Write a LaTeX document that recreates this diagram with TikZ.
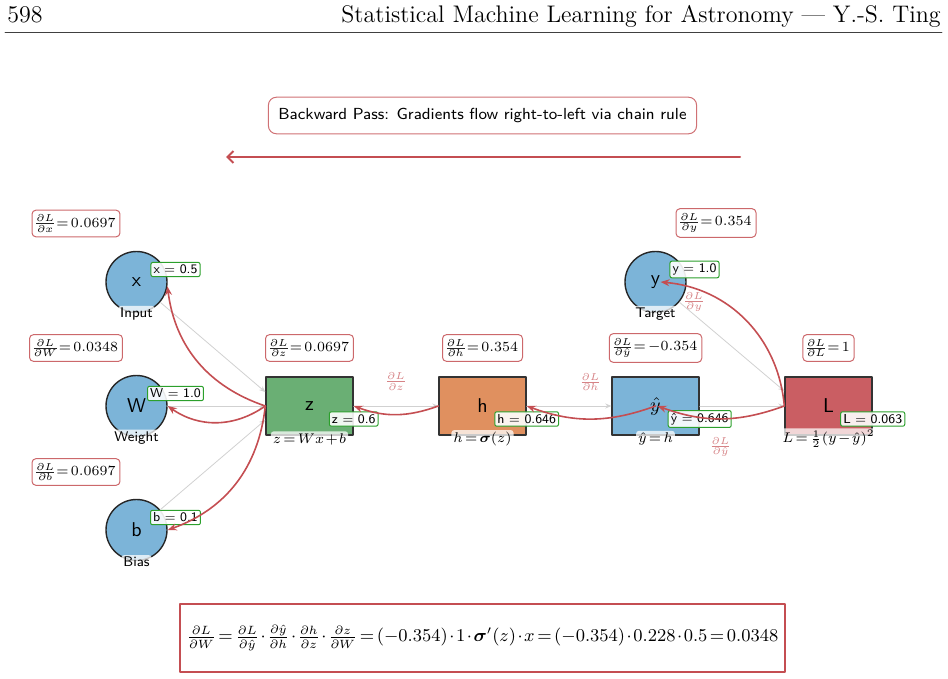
\documentclass[tikz,border=0pt]{standalone}
\usepackage{bm}
\usetikzlibrary{arrows.meta}
\definecolor{varblue}{RGB}{124,180,216}
\definecolor{opgreen}{RGB}{106,175,116}
\definecolor{oporange}{RGB}{224,144,95}
\definecolor{opred}{RGB}{202,94,99}
\definecolor{gradred}{RGB}{196,78,82}
\definecolor{valgreen}{RGB}{44,160,44}
\newcommand{\tightmath}{\thickmuskip=2.5mu\medmuskip=1.5mu\relax}
\newcommand{\nodelim}{\nulldelimiterspace=0pt\relax}
\tikzset{
  var/.style={circle, draw=black!85, line width=0.7pt, fill=varblue, minimum size=30.5pt, inner sep=0pt, font=\sffamily\fontsize{10}{12}\selectfont},
  op/.style={rectangle, draw=black!80, line width=0.7pt, minimum width=43.5pt, minimum height=29pt, inner sep=0pt, font=\sffamily\fontsize{10}{12}\selectfont},
  sublab/.style={fill=white, fill opacity=0.75, text opacity=1, rounded corners=1.5pt, inner sep=1pt, font=\sffamily\fontsize{7}{8}\selectfont},
  formlab/.style={sublab, font=\fontsize{7.5}{9}\selectfont\tightmath},
  valbox/.style={draw=valgreen, line width=0.5pt, fill=white, fill opacity=0.9, text opacity=1, rounded corners=1pt, inner sep=1.3pt, font=\sffamily\fontsize{6.5}{7}\selectfont},
  gradbox/.style={draw=gradred, draw opacity=0.85, line width=0.5pt, fill=white, rounded corners=2pt, inner xsep=2.2pt, inner ysep=2.4pt, font=\fontsize{7.2}{9}\selectfont\tightmath},
  gradlab/.style={text=gradred!70, inner sep=0pt, font=\fontsize{7.5}{9}\selectfont},
  titlebox/.style={draw=gradred, draw opacity=0.8, line width=0.5pt, fill=white, rounded corners=4pt, inner xsep=5pt, inner ysep=5.5pt, font=\sffamily\fontsize{8}{10}\selectfont},
  formbox/.style={draw=gradred, line width=0.75pt, fill=white, minimum width=302.5pt, minimum height=34pt, font=\fontsize{9}{11}\selectfont\tightmath},
  flowarrow/.style={draw=gradred, line width=1pt, -{Straight Barb[length=3pt,width=6pt]}},
  fwd/.style={draw=black!18, line width=0.4pt, -{Stealth[length=3pt,width=2.5pt]}},
  back/.style={draw=gradred, line width=0.8pt, -{Stealth[length=4.5pt,width=3.5pt]}},
}
\begin{document}
\begin{tikzpicture}[x=0.5pt, y=-0.5pt, line join=round, line cap=round]
  \useasboundingbox (0,0) rectangle (948,679);
  % page header
  \node[anchor=base west, inner sep=0pt, font=\fontsize{12}{14}\selectfont] (pagenum) at (7,23) {598};
  \node[anchor=base east, inner sep=0pt, font=\fontsize{12}{14}\selectfont] (pagehead) at (941,23) {Statistical Machine Learning for Astronomy --- Y.-S. Ting};
  \draw[line width=0.4pt, black!75] (5,32) -- (942,32);
  % title and flow direction
  \node[titlebox] (title) at (482.5,115.5) {Backward Pass: Gradients flow right-to-left via chain rule};
  \coordinate (flowR) at (740,157);
  \coordinate (flowL) at (226,157);
  \draw[flowarrow] (flowR) -- (flowL);
  % variables
  \foreach \n/\t/\l/\v/\yy in {input/x/Input/{x = 0.5}/282, weight/W/Weight/{W = 1.0}/406, bias/b/Bias/{b = 0.1}/530}{
    \node[var] (\n) at (136.5,\yy) {\t};
    \node[sublab] (\n-lab) at (136.5,\yy+32) {\l};
    \node[valbox] (\n-val) at (175.5,\yy-12.5) {\v};
  }
  \node[var] (target) at (655.5,282) {y};
  \node[sublab] (target-lab) at (655.5,314) {Target};
  \node[valbox] (target-val) at (694.5,269.5) {y = 1.0};
  % operations
  \node[op, fill=opgreen] (zlin) at (309.5,406) {z};
  \node[op, fill=oporange] (hact) at (482.5,406) {h};
  \node[op, fill=varblue] (yhat) at (655.5,406) {$\hat{y}$};
  \node[op, fill=opred] (loss) at (828.5,406) {L};
  \foreach \n/\f/\v in {zlin/{$z = Wx+b$}/{z = 0.6}, hact/{$h = \bm{\sigma}(z)$}/{h = 0.646}, yhat/{$\hat{y} = h$}/{\^y = 0.646}, loss/{$L = \frac{1}{2}(y-\hat{y})^2$}/{L = 0.063}}{
    \node[formlab] (\n-f) at ([yshift=-16.5pt]\n.center) {\f};
    \node[valbox] (\n-v) at ([yshift=-6.5pt]\n.east) {\v};
  }
  % gradients
  \foreach \n/\g/\val/\px/\py in {input/x/0.0697/76/223.5, weight/W/0.0348/76/348, bias/b/0.0697/76/472, zlin/z/0.0697/309.5/348, hact/h/0.354/482.5/348, yhat/\hat{y}/-0.354/655.5/348, loss/L/1/828.5/348, target/y/0.354/716/223}
    \node[gradbox] (\n-grad) at (\px,\py) {\nodelim$\frac{\partial L}{\partial \g} = \val$};
  % forward pass
  \draw[fwd] (input) -- ([yshift=7pt]zlin.west);
  \draw[fwd] (weight) -- (zlin.west);
  \draw[fwd] (bias) -- ([yshift=-7pt]zlin.west);
  \draw[fwd] (zlin) -- (hact);
  \draw[fwd] (hact) -- (yhat);
  \draw[fwd] (yhat) -- (loss);
  \draw[fwd] (target) -- ([yshift=7.5pt]loss.west);
  % backward pass
  \draw[back] (zlin.west) to[bend left=32] (input.-8);
  \draw[back] (zlin.west) to[bend left=35] (weight.east);
  \draw[back] (zlin.west) to[bend left=32] (bias.east);
  \draw[back] (hact.west) to[bend left=20] (zlin.east);
  \draw[back] (yhat.center) to[bend left=20] (hact.east);
  \draw[back] (loss.west) to[bend left=20] ([xshift=1pt]yhat.center);
  \draw[back] (loss.west) to[bend right=40] ([xshift=2.5pt]target.center);
  \node[gradlab] (dz) at (396,381.5) {$\frac{\partial L}{\partial z}$};
  \node[gradlab] (dh) at (590.5,382) {$\frac{\partial L}{\partial h}$};
  \node[gradlab] (dyhat) at (720.5,447) {$\frac{\partial L}{\partial \hat{y}}$};
  \node[gradlab] (dy) at (694,302) {$\frac{\partial L}{\partial y}$};
  % chain rule
  \node[formbox] (chain) at (482.5,638) {$\frac{\partial L}{\partial W} = \frac{\partial L}{\partial \hat{y}}\cdot\frac{\partial \hat{y}}{\partial h}\cdot\frac{\partial h}{\partial z}\cdot\frac{\partial z}{\partial W} = (-0.354)\cdot 1\cdot \bm{\sigma}'(z)\cdot x = (-0.354)\cdot 0.228\cdot 0.5 = 0.0348$};
\end{tikzpicture}
\end{document}
